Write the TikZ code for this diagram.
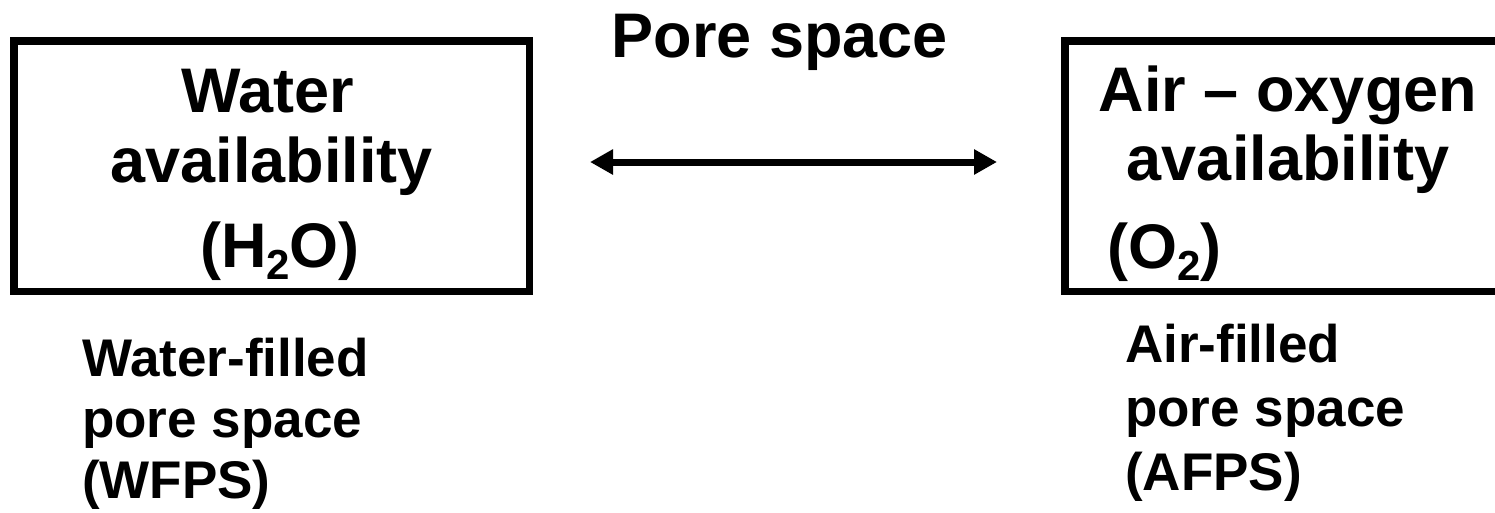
\documentclass[tikz,border=0pt]{standalone}
\usepackage{fontspec}
\setmainfont{Liberation Sans}
\usetikzlibrary{arrows.meta}
\newcommand{\mysub}[1]{\raisebox{-0.2em}{\fontsize{42}{42}\selectfont #1}}
\begin{document}
\begin{tikzpicture}[x=1pt,y=-1pt,
  boxframe/.style={draw=black, line width=7.5pt, inner sep=0pt, outer sep=0pt},
  bigtext/.style={font=\bfseries\fontsize{63}{63}\selectfont, inner sep=0pt, anchor=base},
  bigleft/.style={font=\bfseries\fontsize{63}{63}\selectfont, inner sep=0pt, anchor=base west},
  smalltext/.style={font=\bfseries\fontsize{53}{53}\selectfont, inner sep=0pt, anchor=base west},
  twoway/.style={line width=7pt, {Triangle[length=23pt,width=24pt]}-{Triangle[length=23pt,width=24pt]}}
]
\useasboundingbox (0,0) rectangle (1495,512);
\clip (0,0) rectangle (1495,512);
\fill[white] (0,0) rectangle (1495,512);

% boxes
\node[boxframe, minimum width=515.5pt, minimum height=250.5pt] (wbox) at (271.5,166) {};
\node[boxframe, minimum width=535.25pt, minimum height=250.5pt] (abox) at (1332.4,166) {};

% title
\node[bigtext] (title) at (780,57) {Pore space};

% left box text
\node[bigtext] (w1) at (268,112) {Water};
\node[bigtext] (w2) at (271.5,182) {availability};
\node[bigtext] (w3) at (280,267) {(H\mysub{2}O)};

% right box text
\node[bigtext] (a1) at (1288,111) {Air -- oxygen};
\node[bigtext] (a2) at (1288,180) {availability};
\node[bigleft] (a3) at (1107,268) {(O\mysub{2})};

% arrow
\coordinate (al) at (590,162);
\coordinate (ar) at (997,162);
\draw[twoway] (al) -- (ar);

% lower texts
\node[smalltext] (lw1) at (82,376) {Water-filled};
\node[smalltext] (lw2) at (82,437) {pore space};
\node[smalltext] (lw3) at (82,498) {(WFPS)};

\node[smalltext] (ra1) at (1125,362) {Air-filled};
\node[smalltext] (ra2) at (1125,426) {pore space};
\node[smalltext] (ra3) at (1125,490) {(AFPS)};
\end{tikzpicture}
\end{document}
